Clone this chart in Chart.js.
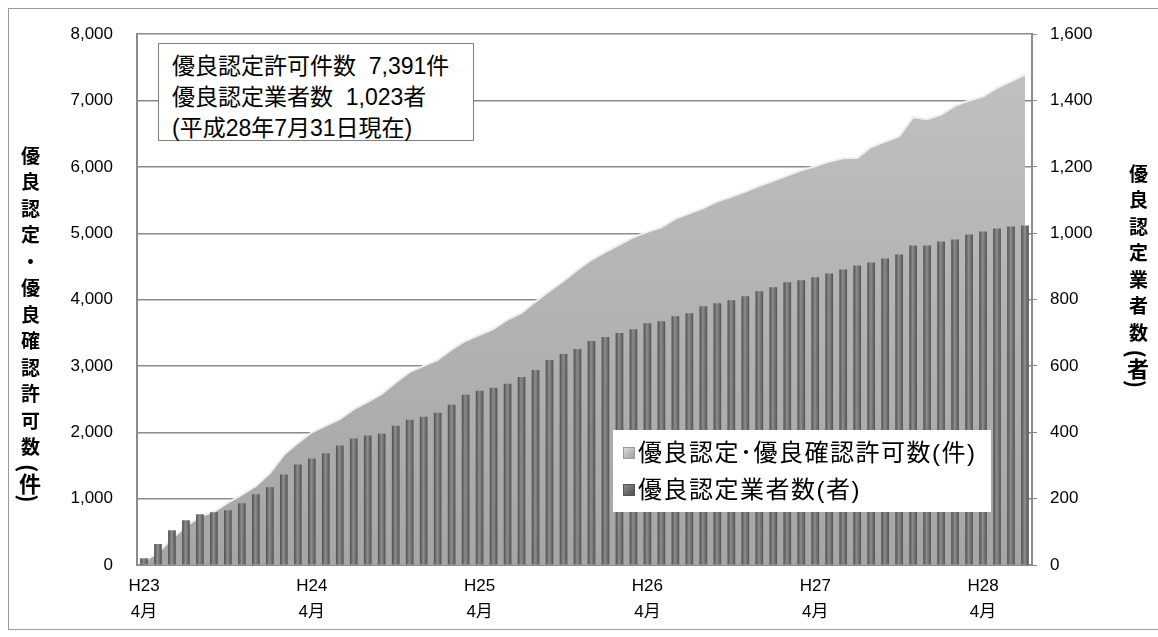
<!DOCTYPE html>
<html lang="ja">
<head>
<meta charset="utf-8">
<script src="https://cdn.jsdelivr.net/npm/chart.js@4.4.1/dist/chart.umd.min.js"></script>
<style>
  html, body { margin: 0; padding: 0; background: #fff; }
  body { width: 1158px; height: 637px; position: relative; overflow: hidden;
         font-family: "Liberation Sans", "Noto Sans CJK JP", sans-serif; color: #000; }
  #wrap { position: absolute; left: 0; top: 0; width: 1158px; height: 637px; }
  .frame { position: absolute; left: 8px; top: 8px; width: 1160px; height: 620px; border: 1px solid #9a9a9a; }
  .vtitle { position: absolute; writing-mode: vertical-rl; font-weight: bold; font-size: 19px;
            letter-spacing: 7.5px; font-family: "Noto Sans CJK JP", sans-serif; line-height: 1; }
  .vtitle span { letter-spacing: 0; font-size: 22px; }
  .note { position: absolute; left: 158px; top: 43px; width: 316px; height: 98px; background: #fff;
          border: 1px solid #7f7f7f; font-size: 23px; line-height: 31px; padding: 7px 0 0 13px; box-sizing: border-box;
          white-space: nowrap; }
  .legbox { position: absolute; left: 613px; top: 430px; width: 378px; height: 82px; background: #fff;
            font-size: 24px; letter-spacing: 1.5px; }
  .legitem { position: absolute; left: 10px; height: 30px; line-height: 30px; white-space: nowrap; }
  .legitem i { display: inline-block; width: 10px; height: 10px; margin-right: 3px; vertical-align: 2px; }
</style>
</head>
<body>
<div id="wrap">
  <div class="frame"></div>
  <canvas id="chart" width="1158" height="637"></canvas>
  <div class="vtitle" style="left:19px; top:146px;">優良認定・優良確認許可数<span>(件)</span></div>
  <div class="vtitle" style="left:1127px; top:164px;">優良認定業者数<span>(者)</span></div>
  <div class="note">
    <div>優良認定許可件数&nbsp;&nbsp;7,391件</div>
    <div>優良認定業者数&nbsp;&nbsp;1,023者</div>
    <div>(平成28年7月31日現在)</div>
  </div>
  <div class="legbox">
    <div class="legitem" style="top:8px;"><i style="background:linear-gradient(135deg,#dadada,#a0a0a0);border:1px solid #9a9a9a;"></i>優良認定･優良確認許可数(件)</div>
    <div class="legitem" style="top:45px;"><i style="background:linear-gradient(135deg,#8a8a8a,#505050);border:1px solid #555;"></i>優良認定業者数(者)</div>
  </div>
</div>
<script>
// ── DATA ─────────────────────────────────────────────────────────────────────
// monthly, H23/4 → H28/7
const yearLabels = ['H23', 'H24', 'H25', 'H26', 'H27', 'H28'];
const monthLabel = '4月';

const permits = [
  60, 180, 400, 580, 735, 800, 940, 1060, 1190, 1380,
  1660, 1840, 2000, 2100, 2200, 2350, 2460, 2580, 2750, 2910,
  3000, 3090, 3250, 3380, 3470, 3560, 3700, 3800, 3970, 4130,
  4280, 4450, 4600, 4720, 4830, 4940, 5020, 5090, 5220, 5300,
  5380, 5480, 5550, 5630, 5715, 5790, 5870, 5950, 6010, 6080,
  6130, 6135, 6300, 6380, 6460, 6750, 6720, 6790, 6920, 7000,
  7060, 7190, 7290, 7391
];

const operators = [
  20, 63, 105, 135, 153, 159, 165, 186, 213, 234,
  273, 303, 321, 337, 360, 381, 390, 396, 420, 438,
  447, 459, 483, 513, 525, 534, 546, 567, 588, 618,
  636, 651, 675, 687, 699, 711, 729, 735, 750, 759,
  780, 789, 798, 810, 825, 837, 852, 858, 867, 879,
  891, 903, 912, 924, 936, 963, 963, 975, 981, 996,
  1005, 1014, 1020, 1023
];

const labels = permits.map((_, i) => i % 12 === 0 ? [yearLabels[i / 12], monthLabel] : '');

// ── STYLE HELPERS ────────────────────────────────────────────────────────────
const FONT = '"Liberation Sans", "Noto Sans CJK JP", sans-serif';
const GRID = '#8c8c8c';

function areaFill(ctx) {
  const { chart } = ctx;
  const area = chart.chartArea;
  if (!area) return '#b0b0b0';
  const g = chart.ctx.createLinearGradient(0, area.top + 40, 0, area.bottom);
  g.addColorStop(0, '#c0c0c0');
  g.addColorStop(0.5, '#b2b2b2');
  g.addColorStop(1, '#a6a6a6');
  return g;
}

function barFill(ctx) {
  const { chart, dataIndex } = ctx;
  const x = chart.scales.x;
  if (!chart.chartArea || !x) return '#6a6a6a';
  const cx = x.getPixelForValue(dataIndex);
  const g = chart.ctx.createLinearGradient(cx - 4, 0, cx + 4, 0);
  g.addColorStop(0, '#4a4a4a');
  g.addColorStop(0.45, '#8e8e8e');
  g.addColorStop(1, '#505050');
  return g;
}

// ── CHART ────────────────────────────────────────────────────────────────────
new Chart(document.getElementById('chart'), {
  data: {
    labels,
    datasets: [
      {
        type: 'bar', label: '優良認定業者数(者)', data: operators, yAxisID: 'y2', order: 0,
        backgroundColor: barFill, borderWidth: 0,
        barPercentage: 0.55, categoryPercentage: 1.0,
      },
      {
        type: 'line', label: '優良認定･優良確認許可数(件)', data: permits, yAxisID: 'y', order: 1,
        fill: 'origin', backgroundColor: areaFill, borderColor: '#efefef', borderWidth: 2,
        pointRadius: 0, tension: 0,
      },
    ],
  },
  options: {
    responsive: false, animation: false,
    layout: { padding: { top: 30, bottom: 0, left: 0, right: 0 } },
    plugins: { legend: { display: false }, tooltip: { enabled: false } },
    scales: {
      x: {
        offset: true,
        grid: { display: false, drawTicks: false },
        border: { color: GRID, width: 2 },
        ticks: { autoSkip: false, maxRotation: 0, minRotation: 0, padding: 8, color: '#000',
                 font: { family: FONT, size: 17, lineHeight: 1.55 } },
        afterFit: s => { s.height = 72; },
      },
      y: {
        position: 'left', min: 0, max: 8000,
        grid: { color: GRID, lineWidth: 1.5, drawTicks: false },
        border: { color: GRID, width: 2 },
        ticks: { stepSize: 1000, padding: 24, color: '#000', font: { family: FONT, size: 17 },
                 callback: v => v.toLocaleString('en-US') },
        afterFit: s => { s.width = 137; },
      },
      y2: {
        position: 'right', min: 0, max: 1600,
        grid: { drawOnChartArea: false, drawTicks: true, tickLength: 5, color: GRID },
        border: { color: GRID, width: 2 },
        ticks: { stepSize: 200, padding: 13, color: '#000', font: { family: FONT, size: 17 },
                 callback: v => v.toLocaleString('en-US') },
        afterFit: s => { s.width = 126; },
      },
    },
  },
});
</script>
</body>
</html>
